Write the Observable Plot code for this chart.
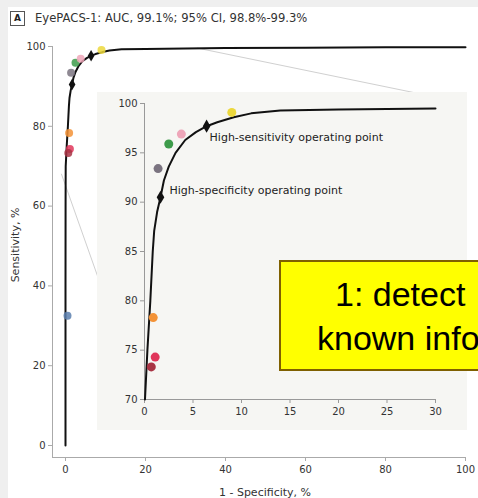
<!DOCTYPE html>
<html>
<head>
<meta charset="utf-8">
<script src="https://cdn.jsdelivr.net/npm/d3@7"></script>
<script src="https://cdn.jsdelivr.net/npm/@observablehq/plot@0.6"></script>
<style>
  html, body { margin: 0; padding: 0; }
  body { width: 478px; height: 498px; background: #efefef; position: relative; overflow: hidden; font-family: "DejaVu Sans", sans-serif; }
  #panel { position: absolute; left: 8px; top: 7px; width: 470px; height: 491px; background: #fff; }
  .abs { position: absolute; }
  #boxA { left: 10px; top: 11px; width: 13px; height: 13px; border: 1px solid #555; font: bold 9px "DejaVu Sans"; color: #222; text-align: center; line-height: 13px; }
  #title { left: 35px; top: 11px; font: 11.6px "DejaVu Sans"; color: #333; white-space: nowrap; line-height: 14px; }
  #ytitle { left: 15px; top: 245px; transform: translate(-50%, -50%) rotate(-90deg); font: 11px "DejaVu Sans"; color: #333; white-space: nowrap; }
  #xtitle { left: 265px; top: 492px; transform: translate(-50%, -50%); font: 11px "DejaVu Sans"; color: #333; white-space: nowrap; }
  #main { left: 0; top: 0; }
  #inset { left: 97px; top: 92px; }
  #note { left: 279px; top: 260px; width: 260px; height: 107px; background: #ffff00; border: 2px solid #7f6000; font: 34px "Liberation Sans"; color: #000; line-height: 44px; white-space: nowrap; }
  #note span { position: absolute; }
</style>
</head>
<body>
<div id="panel"></div>
<div id="main" class="abs"></div>
<div id="inset" class="abs"></div>
<div id="boxA" class="abs">A</div>
<div id="title" class="abs"></div>
<div id="ytitle" class="abs"></div>
<div id="xtitle" class="abs"></div>
<div id="note" class="abs"><span style="left:54px;top:10px">1: detect</span><span style="left:36px;top:54px">known info</span></div>
<script>
// ---- text ----
const titleText = "EyePACS-1: AUC, 99.1%; 95% CI, 98.8%-99.3%";
const yTitle = "Sensitivity, %";
const xTitle = "1 - Specificity, %";

// ---- ROC curve (1 - specificity %, sensitivity %) ----
const rocFPR  = [0, 0, 0.02, 0.05, 0.3, 0.6, 0.85, 1.0, 1.3, 1.65, 2.0, 2.5, 3.2, 4.2, 5.3, 6.4, 7.5, 9.2, 11, 14, 20, 30, 40, 60, 80, 100];
const rocSens = [0, 40, 60, 70, 75, 80, 85, 87.1, 89, 90.5, 92.2, 93.6, 95.0, 96.3, 97.1, 97.7, 98.1, 98.6, 99.0, 99.3, 99.4, 99.5, 99.6, 99.7, 99.8, 99.8];

// ---- operating points ----
const opNames = ["High-specificity operating point", "High-sensitivity operating point"];
const opFPR   = [1.65, 6.4];
const opSens  = [90.5, 97.7];

// ---- ophthalmologist points ----
const readerFPR   = [1.4, 2.5, 3.8, 9.0, 0.9, 1.1, 0.7, 0.5];
const readerSens  = [93.4, 95.9, 96.9, 99.1, 78.3, 74.3, 73.3, 32.5];
const readerColor = ["#7b7480", "#3d9b4a", "#eea6b9", "#ecd83c", "#f39236", "#e0365a", "#a83444", "#5a7fae"];

// ---- zoom connector lines (main-plot units) ----
const connId  = ["left", "left", "top", "top"];
const connFPR = [-1, 8, 33, 99];
const connSens = [68, 42.5, 99.6, 86];

// ---- ticks ----
const mainTicks = [0, 20, 40, 60, 80, 100];
const insetXTicks = [0, 5, 10, 15, 20, 25, 30];
const insetYTicks = [70, 75, 80, 85, 90, 95, 100];

const roc = rocFPR.map((x, i) => ({x, y: rocSens[i]}));
const ops = opFPR.map((x, i) => ({x, y: opSens[i], name: opNames[i]}));
const readers = readerFPR.map((x, i) => ({x, y: readerSens[i], c: readerColor[i]}));
const conns = connFPR.map((x, i) => ({x, y: connSens[i], id: connId[i]}));

document.getElementById("title").textContent = titleText;
document.getElementById("ytitle").textContent = yTitle;
document.getElementById("xtitle").textContent = xTitle;

const mainPlot = Plot.plot({
  width: 478, height: 498,
  marginLeft: 52, marginRight: 13, marginTop: 46, marginBottom: 41,
  x: {domain: [0, 100], insetLeft: 13},
  y: {domain: [0, 100], insetBottom: 12},
  style: {fontFamily: "DejaVu Sans", fontSize: "10px", background: "transparent", overflow: "visible"},
  marks: [
    Plot.line(conns, {x: "x", y: "y", z: "id", stroke: "#d0d0d0", strokeWidth: 1, clip: false}),
    Plot.frame({anchor: "left", stroke: "#aaa"}),
    Plot.frame({anchor: "bottom", stroke: "#aaa"}),
    Plot.axisX({ticks: mainTicks, tickSize: 4, tickPadding: 4, stroke: "#aaa", fill: "#333", label: null}),
    Plot.axisY({ticks: mainTicks, tickSize: 4, tickPadding: 3, stroke: "#aaa", fill: "#333", label: null}),
    Plot.line(roc, {x: "x", y: "y", stroke: "#111", strokeWidth: 2}),
    Plot.dot(readers, {x: "x", y: "y", fill: "c", r: 4, fillOpacity: 0.85}),
    Plot.dot(ops, {x: "x", y: "y", symbol: "diamond", fill: "#111", r: 3.5})
  ]
});
document.getElementById("main").appendChild(mainPlot);

const insetRoc = roc.filter(d => d.y >= 70 && d.x <= 30);
const insetReaders = readers.filter(d => d.y >= 70 && d.x <= 30);

const insetPlot = Plot.plot({
  width: 370, height: 338,
  marginLeft: 47, marginRight: 32, marginTop: 11, marginBottom: 31,
  x: {domain: [0, 30]},
  y: {domain: [70, 100]},
  style: {fontFamily: "DejaVu Sans", fontSize: "10px", background: "#f6f6f3", overflow: "visible"},
  marks: [
    Plot.frame({anchor: "left", stroke: "#999"}),
    Plot.frame({anchor: "bottom", stroke: "#999"}),
    Plot.axisX({ticks: insetXTicks, tickSize: 4, tickPadding: 4, stroke: "#999", fill: "#333", label: null}),
    Plot.axisY({ticks: insetYTicks, tickSize: 4, tickPadding: 3, stroke: "#999", fill: "#333", label: null}),
    Plot.line(insetRoc, {x: "x", y: "y", stroke: "#111", strokeWidth: 2}),
    Plot.dot(insetReaders, {x: "x", y: "y", fill: "c", r: 4.5}),
    Plot.dot(ops, {x: "x", y: "y", symbol: "diamond", fill: "#111", r: 4}),
    Plot.text(ops.slice(1), {x: "x", y: "y", text: "name", textAnchor: "start", dx: 3, dy: 11, fontSize: 11, fill: "#222"}),
    Plot.text(ops.slice(0, 1), {x: "x", y: "y", text: "name", textAnchor: "start", dx: 9, dy: -7, fontSize: 11, fill: "#222"})
  ]
});
document.getElementById("inset").appendChild(insetPlot);
</script>
</body>
</html>
